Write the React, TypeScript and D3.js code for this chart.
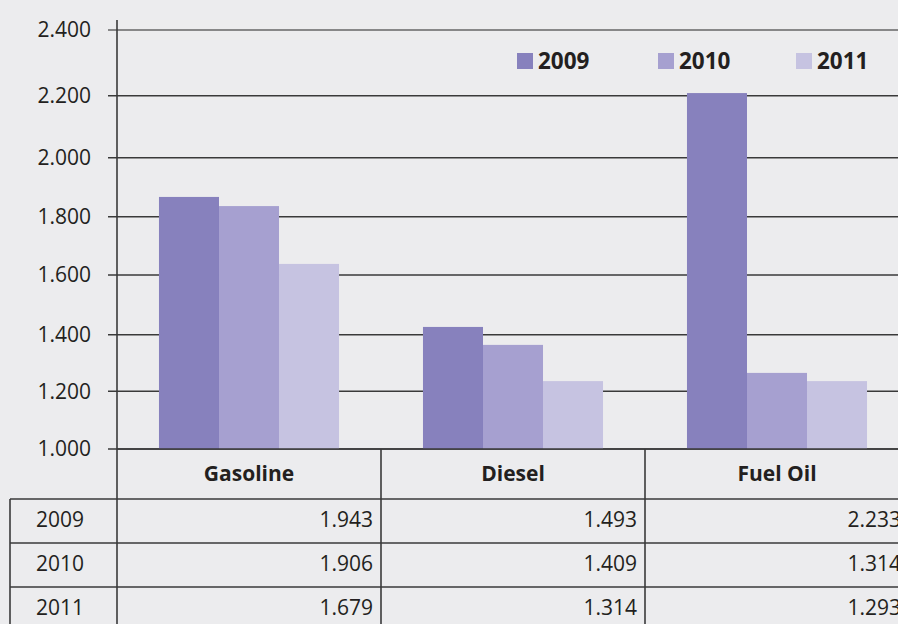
import React from "react";
import * as d3 from "d3";

const CATEGORIES = ["Gasoline", "Diesel", "Fuel Oil"];
const YEARS = ["2009", "2010", "2011"];
// bar heights as drawn in the chart
const BAR_2009 = [1.867, 1.426, 2.208];
const BAR_2010 = [1.836, 1.364, 1.265];
const BAR_2011 = [1.638, 1.236, 1.236];
// values printed in the data table
const TABLE_2009 = [1.943, 1.493, 2.233];
const TABLE_2010 = [1.906, 1.409, 1.314];
const TABLE_2011 = [1.679, 1.314, 1.293];
const Y_TICKS = [1.0, 1.2, 1.4, 1.6, 1.8, 2.0, 2.2, 2.4];

const COLORS = ["#8781bd", "#a6a0d0", "#c6c3e1"];
const BG = "#ececee";
const INK = "#231f20";
const LINE = "#3a3a3a";
const FONT = "'Open Sans', sans-serif";

const W = 898;
const H = 624;
const AXIS_X = 117;
const TABLE_LEFT = 10;
const HEADER_BOTTOM = 499;
const ROW_H = 44;

export default function App() {
  const bars = [BAR_2009, BAR_2010, BAR_2011];
  const table = [TABLE_2009, TABLE_2010, TABLE_2011];

  // the source axis is not evenly spaced, so map each tick to its spot
  const y = d3.scaleLinear()
    .domain(Y_TICKS)
    .range([449, 391.3, 334.7, 275, 216.7, 157.7, 95.7, 30]);

  const x0 = d3.scaleBand()
    .domain(CATEGORIES)
    .range([AXIS_X, AXIS_X + 3 * 264])
    .paddingInner(0.318)
    .paddingOuter(0.159);

  const x1 = d3.scaleBand()
    .domain(YEARS)
    .range([0, x0.bandwidth()]);

  const fmt = d3.format(".3f");
  const base = y(1.0);

  // table column edges follow the category bands
  const colEdge = (i: number) => x0.step() * i + AXIS_X;

  return (
    <svg
      width={W}
      height={H}
      style={{ position: "absolute", left: 0, top: 0, display: "block" }}
      fontFamily={FONT}
    >
      <rect x={0} y={0} width={W} height={H} fill={BG} />

      {/* gridlines + ticks */}
      {Y_TICKS.map((t) => (
        <g key={t}>
          <line
            x1={108} x2={W} y1={y(t)} y2={y(t)}
            stroke={t === 2.4 ? "#666" : LINE} strokeWidth={1.6}
          />
          <text
            x={91} y={y(t)} dy="0.35em" textAnchor="end"
            fontSize={21} fill={INK}
          >
            {fmt(t)}
          </text>
        </g>
      ))}

      {/* bars */}
      {CATEGORIES.map((c, ci) => (
        <g key={c} transform={`translate(${x0(c)},0)`}>
          {YEARS.map((yr, yi) => (
            <rect
              key={yr}
              x={x1(yr)}
              y={y(bars[yi][ci])}
              width={x1.bandwidth()}
              height={base - y(bars[yi][ci])}
              fill={COLORS[yi]}
            />
          ))}
        </g>
      ))}

      {/* y axis line, continues down as the table's first column rule */}
      <line x1={AXIS_X} x2={AXIS_X} y1={20} y2={H} stroke={LINE} strokeWidth={1.6} />

      {/* legend */}
      {YEARS.map((yr, i) => {
        const lx = [517, 658, 796][i];
        return (
          <g key={yr}>
            <rect x={lx} y={53} width={16} height={16} fill={COLORS[i]} />
            <text x={lx + 21} y={61} dy="0.35em" fontSize={22.5} fontWeight={700} fill={INK}>
              {yr}
            </text>
          </g>
        );
      })}

      {/* data table */}
      <line x1={AXIS_X} x2={W} y1={base} y2={base} stroke={LINE} strokeWidth={1.6} />
      {[0, 1, 2, 3].map((r) => (
        <line
          key={r}
          x1={TABLE_LEFT} x2={W}
          y1={HEADER_BOTTOM + r * ROW_H} y2={HEADER_BOTTOM + r * ROW_H}
          stroke={LINE} strokeWidth={1.6}
        />
      ))}
      <line x1={TABLE_LEFT} x2={TABLE_LEFT} y1={HEADER_BOTTOM} y2={H} stroke={LINE} strokeWidth={1.6} />
      {[1, 2].map((i) => (
        <line key={i} x1={colEdge(i)} x2={colEdge(i)} y1={base} y2={H} stroke={LINE} strokeWidth={1.6} />
      ))}

      {CATEGORIES.map((c, ci) => (
        <text
          key={c}
          x={(colEdge(ci) + colEdge(ci + 1)) / 2}
          y={(base + HEADER_BOTTOM) / 2}
          dy="0.35em"
          textAnchor="middle"
          fontSize={21}
          fontWeight={700}
          fill={INK}
        >
          {c}
        </text>
      ))}

      {YEARS.map((yr, ri) => {
        const cy = HEADER_BOTTOM + ri * ROW_H + ROW_H / 2 - 1;
        return (
          <g key={yr}>
            <text x={36} y={cy} dy="0.35em" fontSize={21} fill={INK}>
              {yr}
            </text>
            {CATEGORIES.map((c, ci) => (
              <text
                key={c}
                x={colEdge(ci + 1) - 8}
                y={cy}
                dy="0.35em"
                textAnchor="end"
                fontSize={21}
                fill={INK}
              >
                {fmt(table[ri][ci])}
              </text>
            ))}
          </g>
        );
      })}
    </svg>
  );
}
